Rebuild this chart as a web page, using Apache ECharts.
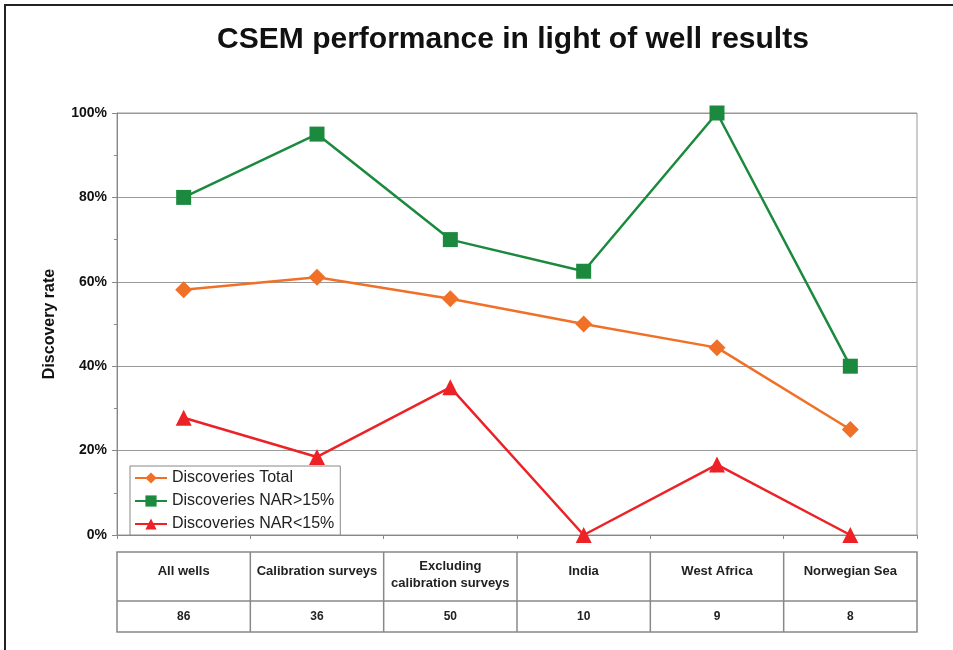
<!DOCTYPE html>
<html>
<head>
<meta charset="utf-8">
<script src="https://cdn.jsdelivr.net/npm/echarts@6/dist/echarts.min.js"></script>
<style>
  html, body { margin: 0; padding: 0; background: #fff; }
  #chart { width: 953px; height: 650px; }
</style>
</head>
<body>
<div id="chart"></div>
<script>
// categories and well counts shown in the table under the plot
var categories = ['All wells', 'Calibration surveys', 'Excluding\ncalibration surveys', 'India', 'West Africa', 'Norwegian Sea'];
var wellCounts = [86, 36, 50, 10, 9, 8];

// discovery rates (fraction)
var discTotal = [0.581, 0.611, 0.56, 0.50, 0.444, 0.25];
var discHighNar = [0.80, 0.95, 0.70, 0.625, 1.00, 0.40];
var discLowNar = [0.278, 0.185, 0.35, 0.0, 0.167, 0.0];

var gridLeft = 117, gridTop = 113, gridRight = 36, gridBottom = 115;
var tableTop = 552, tableMid = 601, tableBottom = 632;

var chart = echarts.init(document.getElementById('chart'));

var font = 'Liberation Sans, Arial, sans-serif';

var option = {
    backgroundColor: '#fff',
    textStyle: { fontFamily: font },
    title: {
        text: 'CSEM performance in light of well results',
        left: 508,
        textAlign: 'center',
        top: 20,
        textStyle: { fontSize: 30, fontWeight: 'bold', color: '#111', fontFamily: font }
    },
    grid: {
        left: gridLeft, top: gridTop, right: gridRight, bottom: gridBottom,
        show: true, borderColor: '#999', borderWidth: 1
    },
    legend: {
        orient: 'vertical',
        left: 130,
        top: 466,
        padding: [4, 6, 3, 4],
        backgroundColor: '#fff',
        borderColor: '#888',
        borderWidth: 1,
        itemWidth: 32,
        itemHeight: 14,
        itemGap: 7,
        textStyle: { fontSize: 16, color: '#222', fontFamily: font },
        data: ['Discoveries Total', 'Discoveries NAR>15%', 'Discoveries NAR<15%']
    },
    xAxis: {
        type: 'category',
        data: categories,
        boundaryGap: true,
        axisLine: { lineStyle: { color: '#888', width: 1 } },
        axisTick: { show: true, length: 4, interval: 0, lineStyle: { color: '#888' } },
        axisLabel: { show: false },
        splitLine: { show: false }
    },
    yAxis: {
        type: 'value',
        min: 0,
        max: 1,
        interval: 0.2,
        name: 'Discovery rate',
        nameLocation: 'middle',
        nameGap: 59,
        nameTextStyle: { fontSize: 16, fontWeight: 'bold', color: '#111', fontFamily: font },
        axisLine: { show: true, lineStyle: { color: '#888', width: 1 } },
        axisTick: { show: true, length: 5, lineStyle: { color: '#888' } },
        minorTick: { show: true, splitNumber: 2, length: 3, lineStyle: { color: '#888' } },
        axisLabel: {
            margin: 10,
            fontSize: 14,
            fontWeight: 'bold',
            color: '#111',
            formatter: function (v) { return Math.round(v * 100) + '%'; }
        },
        splitLine: { show: true, lineStyle: { color: '#999', width: 1 } }
    },
    series: [
        {
            name: 'Discoveries Total',
            type: 'line',
            data: discTotal,
            symbol: 'diamond',
            symbolSize: 17,
            lineStyle: { color: '#f07028', width: 2.5 },
            itemStyle: { color: '#f07028' }
        },
        {
            name: 'Discoveries NAR>15%',
            type: 'line',
            data: discHighNar,
            symbol: 'rect',
            symbolSize: 15,
            lineStyle: { color: '#1b8a3e', width: 2.5 },
            itemStyle: { color: '#1b8a3e' }
        },
        {
            name: 'Discoveries NAR<15%',
            type: 'line',
            data: discLowNar,
            symbol: 'triangle',
            symbolSize: 16,
            lineStyle: { color: '#ec2226', width: 2.5 },
            itemStyle: { color: '#ec2226' }
        }
    ]
};

chart.setOption(option);

// table below the plot, columns aligned with the category axis
function buildTable() {
    var elements = [];
    var x0 = gridLeft;
    var x1 = 953 - gridRight;
    var colW = (x1 - x0) / categories.length;
    var lineStyle = { stroke: '#888', lineWidth: 1.5 };

    // outer frame on left/top of image
    elements.push({
        type: 'polyline',
        shape: { points: [[5, 650], [5, 5], [953, 5]] },
        style: { stroke: '#222', lineWidth: 2, fill: null }
    });

    elements.push({
        type: 'rect',
        shape: { x: x0, y: tableTop, width: x1 - x0, height: tableBottom - tableTop },
        style: { stroke: '#888', lineWidth: 1.5, fill: null }
    });
    elements.push({
        type: 'line',
        shape: { x1: x0, y1: tableMid, x2: x1, y2: tableMid },
        style: lineStyle
    });
    for (var i = 1; i < categories.length; i++) {
        elements.push({
            type: 'line',
            shape: { x1: x0 + colW * i, y1: tableTop, x2: x0 + colW * i, y2: tableBottom },
            style: lineStyle
        });
    }
    categories.forEach(function (c, i) {
        var cx = chart.convertToPixel({ xAxisIndex: 0 }, i);
        var multi = c.indexOf('\n') >= 0;
        elements.push({
            type: 'text',
            x: cx,
            y: multi ? 575 : 571,
            style: {
                text: c,
                align: 'center',
                verticalAlign: 'middle',
                fontSize: 13,
                fontWeight: 'bold',
                lineHeight: 17,
                fill: '#222',
                fontFamily: font
            }
        });
        elements.push({
            type: 'text',
            x: cx,
            y: 617,
            style: {
                text: String(wellCounts[i]),
                align: 'center',
                verticalAlign: 'middle',
                fontSize: 12,
                fontWeight: 'bold',
                fill: '#222',
                fontFamily: font
            }
        });
    });
    chart.setOption({ graphic: elements });
}
buildTable();
</script>
</body>
</html>
